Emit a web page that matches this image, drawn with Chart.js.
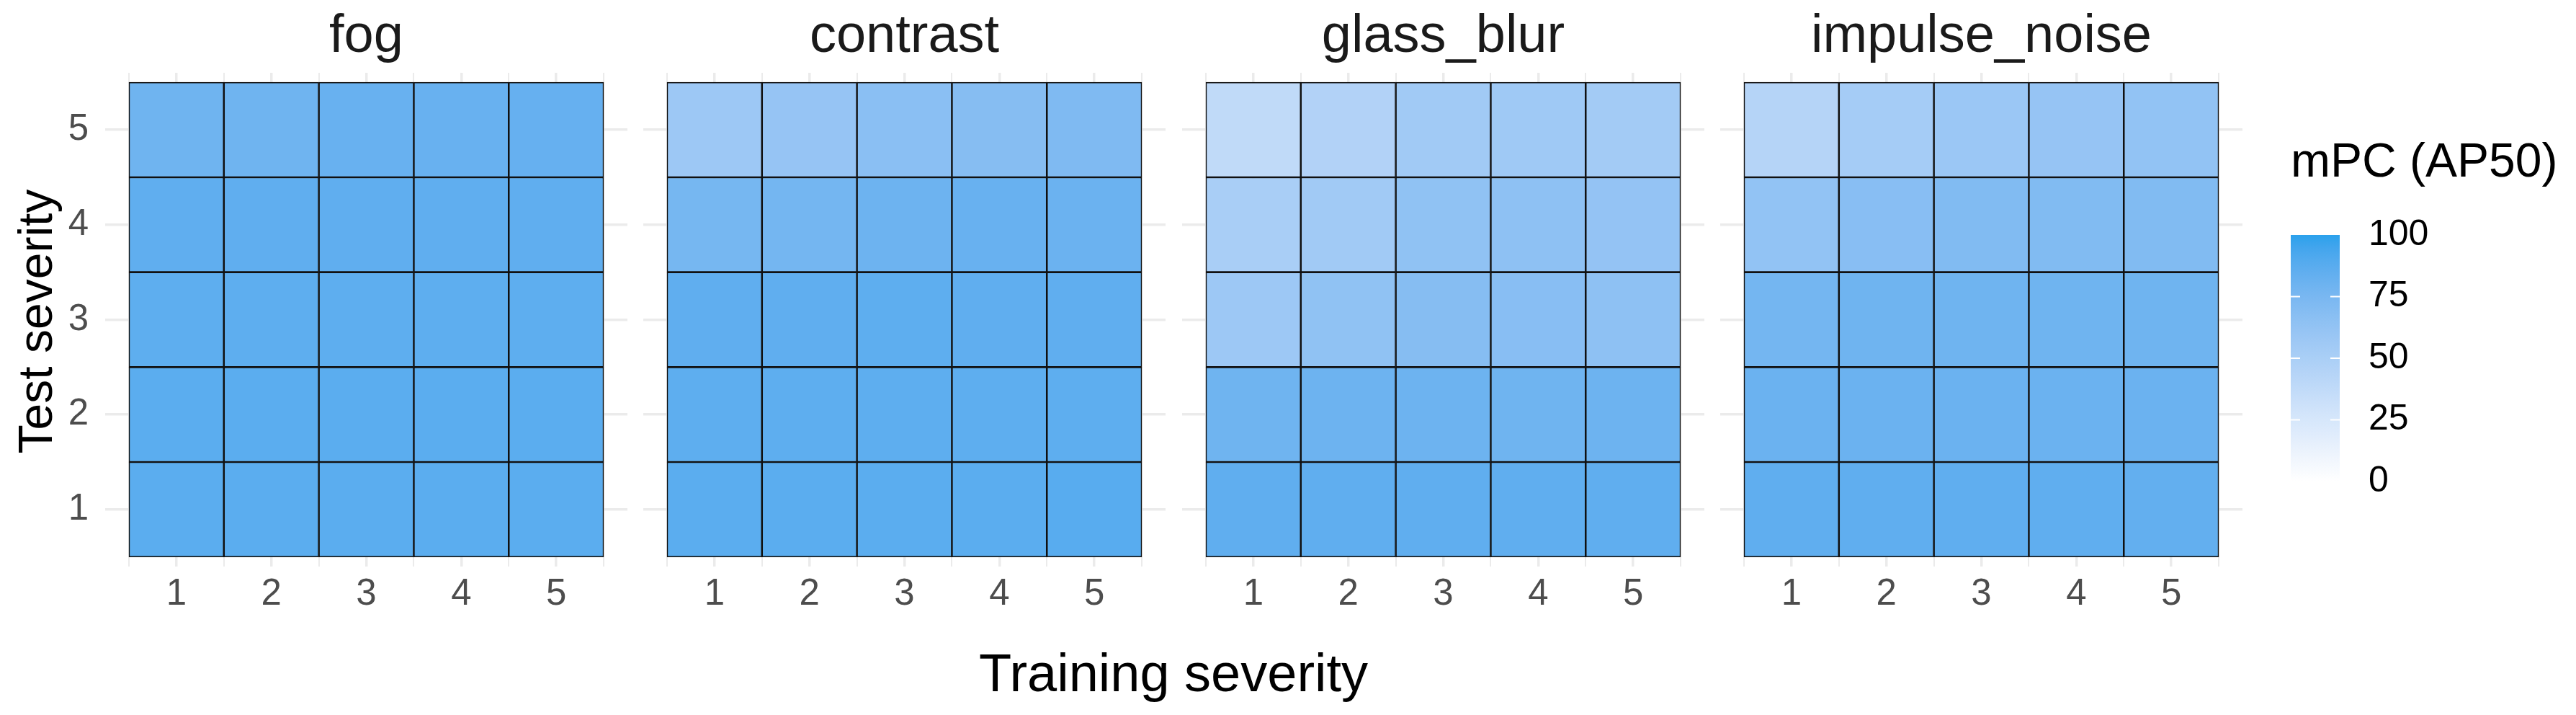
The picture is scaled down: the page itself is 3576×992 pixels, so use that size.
<!DOCTYPE html>
<html>
<head>
<meta charset="utf-8">
<script src="https://cdn.jsdelivr.net/npm/chart.js@4.4.1/dist/chart.umd.min.js"></script>
<style>
  html, body { margin: 0; padding: 0; background: #fff; }
  body { width: 3576px; height: 992px; position: relative; overflow: hidden; font-family: "Liberation Sans", Arial, sans-serif; }
  canvas { position: absolute; }
  .axis-title { position: absolute; white-space: nowrap; line-height: 1; color: #000; }
</style>
</head>
<body>
<div class="axis-title" id="xTitle" style="font-size:74px; left:1629px; top:897px; transform:translateX(-50%);">Training severity</div>
<div class="axis-title" id="yTitle" style="font-size:66px; left:49px; top:446px; transform:translate(-50%,-50%) rotate(-90deg);">Test severity</div>
<script>
const corruptions = ["fog", "contrast", "glass_blur", "impulse_noise"];
const trainingSeverity = [1, 2, 3, 4, 5];
const testSeverity = [1, 2, 3, 4, 5];

// rows: test severity 1..5, columns: training severity 1..5, mPC (AP50)
const fog = [
  [87, 87, 87, 87, 87],
  [87, 87, 87, 87, 87],
  [86, 86, 86, 86, 86],
  [85, 85, 85, 85, 85],
  [79, 79, 82, 82, 83]
];
const contrast = [
  [87, 87, 87, 87, 88],
  [86, 86, 86, 86, 86],
  [85, 85, 86, 85, 85],
  [76, 77, 80, 82, 81],
  [57, 61, 67, 69, 72]
];
const glassBlur = [
  [85, 85, 85, 85, 85],
  [79, 80, 80, 79, 80],
  [57, 64, 69, 68, 65],
  [51, 55, 64, 65, 62],
  [38, 46, 55, 56, 54]
];
const impulseNoise = [
  [85, 85, 85, 85, 84],
  [81, 81, 81, 81, 81],
  [77, 79, 79, 79, 79],
  [63, 68, 71, 71, 71],
  [44, 53, 58, 61, 63]
];
const panelValues = [fog, contrast, glassBlur, impulseNoise];

const legendTitle = "mPC (AP50)";
const legendRange = [0, 100];
const legendTicks = [0, 25, 50, 75, 100];

const FONT = '"Liberation Sans", Arial, sans-serif';
const LOW = [255, 255, 255];
const HIGH = [43, 161, 236];

// ggplot-style gradient: interpolate in CIE Lab
function toLin(c) { c /= 255; return c <= 0.04045 ? c / 12.92 : Math.pow((c + 0.055) / 1.055, 2.4); }
function fromLin(c) {
  const v = c <= 0.0031308 ? 12.92 * c : 1.055 * Math.pow(c, 1 / 2.4) - 0.055;
  return Math.round(Math.max(0, Math.min(1, v)) * 255);
}
function rgbToLab(rgb) {
  const [R, G, B] = rgb.map(toLin);
  const X = (0.4124 * R + 0.3576 * G + 0.1805 * B) / 0.95047;
  const Y = 0.2126 * R + 0.7152 * G + 0.0722 * B;
  const Z = (0.0193 * R + 0.1192 * G + 0.9505 * B) / 1.08883;
  const f = t => t > 0.008856 ? Math.cbrt(t) : 7.787 * t + 16 / 116;
  return [116 * f(Y) - 16, 500 * (f(X) - f(Y)), 200 * (f(Y) - f(Z))];
}
function labToRgb([L, a, b]) {
  const fy = (L + 16) / 116, fx = fy + a / 500, fz = fy - b / 200;
  const inv = t => t * t * t > 0.008856 ? t * t * t : (t - 16 / 116) / 7.787;
  const X = inv(fx) * 0.95047, Y = inv(fy), Z = inv(fz) * 1.08883;
  return [
    fromLin(3.2406 * X - 1.5372 * Y - 0.4986 * Z),
    fromLin(-0.9689 * X + 1.8758 * Y + 0.0415 * Z),
    fromLin(0.0557 * X - 0.2040 * Y + 1.0570 * Z)
  ];
}
const labLow = rgbToLab(LOW), labHigh = rgbToLab(HIGH);
function fillFor(v) {
  const t = (v - legendRange[0]) / (legendRange[1] - legendRange[0]);
  const c = labToRgb(labLow.map((l, k) => l + (labHigh[k] - l) * t));
  return `rgb(${c[0]},${c[1]},${c[2]})`;
}

// layout (px)
const panelLeft0 = 146, panelStep = 747.4, panelW = 725, yAxisW = 146;
const canvasH = 870, xAxisH = 84;

corruptions.forEach((name, i) => {
  const first = i === 0;
  const canvas = document.createElement("canvas");
  canvas.width = (first ? yAxisW : 0) + panelW;
  canvas.height = canvasH;
  canvas.style.left = (first ? 0 : Math.round(panelLeft0 + i * panelStep)) + "px";
  canvas.style.top = "0px";
  document.body.appendChild(canvas);

  const points = [];
  const colors = [];
  testSeverity.forEach((t, r) => {
    trainingSeverity.forEach((s, c) => {
      points.push({ x: s, y: [t - 0.5, t + 0.5] });
      colors.push(fillFor(panelValues[i][r][c]));
    });
  });

  new Chart(canvas, {
    type: "bar",
    data: {
      datasets: [{
        data: points,
        backgroundColor: colors,
        borderColor: "#111",
        borderWidth: 1.6,
        borderSkipped: false,
        barPercentage: 1,
        categoryPercentage: 1
      }]
    },
    options: {
      responsive: false,
      animation: false,
      layout: { padding: { top: 7, left: 0, right: 0, bottom: 0 } },
      plugins: {
        legend: { display: false },
        tooltip: { enabled: false },
        title: {
          display: true,
          text: name,
          fullSize: false,
          color: "#1a1a1a",
          font: { family: FONT, size: 74, weight: "normal", lineHeight: 1.2 },
          padding: { top: 0, bottom: 5.2 }
        }
      },
      scales: {
        x: {
          type: "linear",
          position: "bottom",
          min: 0.25,
          max: 5.75,
          offset: false,
          afterBuildTicks: s => { s.ticks = trainingSeverity.map(v => ({ value: v })); },
          afterFit: s => { s.height = xAxisH; },
          grid: { color: "#ebebeb", lineWidth: 3.5, drawTicks: false, offset: false },
          border: { display: false },
          ticks: { color: "#4d4d4d", padding: 8, maxRotation: 0, font: { family: FONT, size: 51 } }
        },
        xMinor: {
          type: "linear",
          position: "top",
          min: 0.25,
          max: 5.75,
          offset: false,
          afterBuildTicks: s => {
            s.ticks = trainingSeverity.map(v => ({ value: v - 0.5 }))
              .concat([{ value: trainingSeverity[trainingSeverity.length - 1] + 0.5 }]);
          },
          afterFit: s => { s.height = 0; },
          grid: { color: "#ebebeb", lineWidth: 2, drawTicks: false, offset: false },
          border: { display: false },
          ticks: { display: false }
        },
        y: {
          type: "linear",
          min: 0.4,
          max: 5.6,
          afterBuildTicks: s => { s.ticks = testSeverity.map(v => ({ value: v })); },
          afterFit: s => { s.width = first ? yAxisW : 0; },
          grid: { color: "#ebebeb", lineWidth: 3.5, drawTicks: false },
          border: { display: false },
          ticks: { display: first, color: "#4d4d4d", padding: 23, font: { family: FONT, size: 51 } }
        }
      }
    }
  });
});

// colour bar legend
const colorbarTicks = {
  id: "colorbarTicks",
  afterDatasetsDraw(chart) {
    const { ctx, chartArea: a, scales: { y } } = chart;
    ctx.save();
    ctx.strokeStyle = "#fff";
    ctx.lineWidth = 2;
    legendTicks.filter(v => v > legendRange[0] && v < legendRange[1]).forEach(v => {
      const py = y.getPixelForValue(v);
      ctx.beginPath();
      ctx.moveTo(a.left, py); ctx.lineTo(a.left + 13, py);
      ctx.moveTo(a.right - 13, py); ctx.lineTo(a.right, py);
      ctx.stroke();
    });
    ctx.restore();
  }
};

const lc = document.createElement("canvas");
lc.width = 476;
lc.height = 558;
lc.style.left = "3100px";
lc.style.top = "180px";
document.body.appendChild(lc);

new Chart(lc, {
  type: "bar",
  data: {
    labels: [legendTitle],
    datasets: [{
      data: [legendRange],
      backgroundColor: ctx => {
        const chart = ctx.chart;
        if (!chart.chartArea) return fillFor(legendRange[1]);
        const y = chart.scales.y;
        const g = chart.ctx.createLinearGradient(0, y.getPixelForValue(legendRange[0]), 0, y.getPixelForValue(legendRange[1]));
        for (let k = 0; k <= 20; k++) {
          g.addColorStop(k / 20, fillFor(legendRange[0] + (legendRange[1] - legendRange[0]) * k / 20));
        }
        return g;
      },
      borderWidth: 0,
      barPercentage: 1,
      categoryPercentage: 1
    }]
  },
  options: {
    responsive: false,
    animation: false,
    layout: { padding: { top: 7.5, left: 80, right: 0, bottom: 32 } },
    plugins: {
      legend: { display: false },
      tooltip: { enabled: false },
      title: {
        display: true,
        text: legendTitle,
        fullSize: true,
        align: "start",
        color: "#000",
        font: { family: FONT, size: 66, weight: "normal", lineHeight: 1.2 },
        padding: { top: 0, bottom: 59.3 }
      }
    },
    scales: {
      x: { display: false },
      y: {
        position: "right",
        min: legendRange[0],
        max: legendRange[1],
        afterBuildTicks: s => { s.ticks = legendTicks.map(v => ({ value: v })); },
        afterFit: s => { s.width = 476 - 80 - 68; },
        grid: { display: false, drawTicks: false },
        border: { display: false },
        ticks: { color: "#000", padding: 40, font: { family: FONT, size: 50 } }
      }
    }
  },
  plugins: [colorbarTicks]
});
</script>
</body>
</html>
